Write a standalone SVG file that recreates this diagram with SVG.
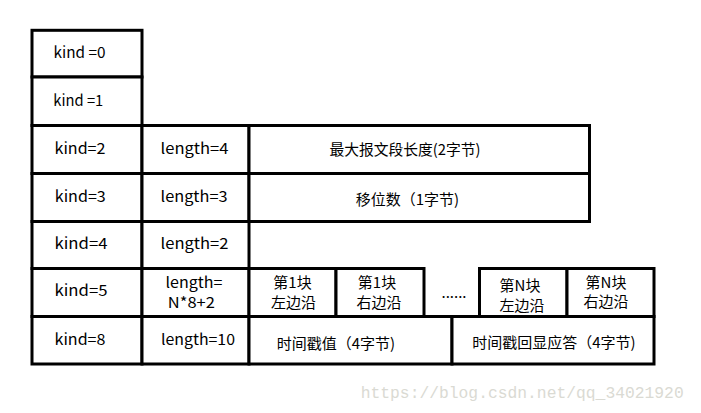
<svg xmlns="http://www.w3.org/2000/svg" width="701" height="413" viewBox="0 0 701 413">
<style>
.c{fill:#fff;stroke:#000;stroke-width:3}
.t{font-family:"Noto Sans CJK SC","Noto Sans",sans-serif;font-size:15px;fill:#000;text-anchor:middle}
.w{font-family:"Liberation Mono",monospace;font-size:16px;fill:#dadad3}
</style>
<rect width="701" height="413" fill="#fff"/>
<g id="connectors"></g>
<g id="kind0"><rect class="c" x="32" y="30.3" width="110" height="46.7"/><text class="t" x="79.5" y="58" textLength="52" lengthAdjust="spacingAndGlyphs">kind =0</text></g>
<g id="kind1"><rect class="c" x="32" y="77" width="110" height="48.5"/><text class="t" x="78.3" y="106" textLength="50" lengthAdjust="spacingAndGlyphs">kind =1</text></g>
<g id="kind2"><rect class="c" x="32" y="125.5" width="110" height="48"/><text class="t" x="80" y="153.5" textLength="51" lengthAdjust="spacingAndGlyphs">kind=2</text></g>
<g id="len4"><rect class="c" x="142" y="125.5" width="107" height="48"/><text class="t" x="194.5" y="153.5" textLength="68" lengthAdjust="spacingAndGlyphs">length=4</text></g>
<g id="mss"><rect class="c" x="249" y="125.5" width="340.5" height="48"/><text class="t" x="405" y="155" textLength="151" lengthAdjust="spacingAndGlyphs">最大报文段长度(2字节)</text></g>
<g id="kind3"><rect class="c" x="32" y="173.5" width="110" height="48"/><text class="t" x="80.3" y="201.7" textLength="51" lengthAdjust="spacingAndGlyphs">kind=3</text></g>
<g id="len3"><rect class="c" x="142" y="173.5" width="107" height="48"/><text class="t" x="194" y="201.7" textLength="67" lengthAdjust="spacingAndGlyphs">length=3</text></g>
<g id="shift"><rect class="c" x="249" y="173.5" width="340.5" height="48"/><text class="t" x="407.5" y="205">移位数（1字节)</text></g>
<g id="kind4"><rect class="c" x="32" y="221.5" width="110" height="47"/><text class="t" x="81" y="249" textLength="53" lengthAdjust="spacingAndGlyphs">kind=4</text></g>
<g id="len2"><rect class="c" x="142" y="221.5" width="107" height="47"/><text class="t" x="194.5" y="249" textLength="68" lengthAdjust="spacingAndGlyphs">length=2</text></g>
<g id="kind5"><rect class="c" x="32" y="268.5" width="110" height="48"/><text class="t" x="81" y="296" textLength="53" lengthAdjust="spacingAndGlyphs">kind=5</text></g>
<g id="lenN"><rect class="c" x="142" y="268.5" width="107" height="48"/><text class="t" x="194" y="287.5" textLength="57" lengthAdjust="spacingAndGlyphs">length=</text><text class="t" x="191.3" y="308" textLength="47" lengthAdjust="spacingAndGlyphs">N*8+2</text></g>
<g id="b1l"><rect class="c" x="249" y="268.5" width="87" height="48"/><text class="t" x="292.5" y="288">第1块</text><text class="t" x="293.5" y="308">左边沿</text></g>
<g id="b1r"><rect class="c" x="336" y="268.5" width="88" height="48"/><text class="t" x="377" y="288">第1块</text><text class="t" x="379" y="308">右边沿</text></g>
<g id="dots"><text class="t" x="454" y="298">......</text></g>
<g id="bNl"><rect class="c" x="479.5" y="268.5" width="87.5" height="48"/><text class="t" x="520" y="290.5">第N块</text><text class="t" x="522" y="310.5">左边沿</text></g>
<g id="bNr"><rect class="c" x="567" y="268.5" width="87" height="48"/><text class="t" x="606" y="287.5">第N块</text><text class="t" x="606" y="307">右边沿</text></g>
<g id="kind8"><rect class="c" x="32" y="316.5" width="110" height="47.5"/><text class="t" x="80" y="345" textLength="51" lengthAdjust="spacingAndGlyphs">kind=8</text></g>
<g id="len10"><rect class="c" x="142" y="316.5" width="107" height="47.5"/><text class="t" x="198" y="345" textLength="74" lengthAdjust="spacingAndGlyphs">length=10</text></g>
<g id="ts"><rect class="c" x="249" y="316.5" width="203" height="47.5"/><text class="t" x="336" y="349.3">时间戳值（4字节)</text></g>
<g id="tsecr"><rect class="c" x="452" y="316.5" width="202" height="47.5"/><text class="t" x="554" y="348">时间戳回显应答（4字节)</text></g>
<text class="w" x="360.7" y="397.7" textLength="323" lengthAdjust="spacingAndGlyphs">https://blog.csdn.net/qq_34021920</text>
</svg>
